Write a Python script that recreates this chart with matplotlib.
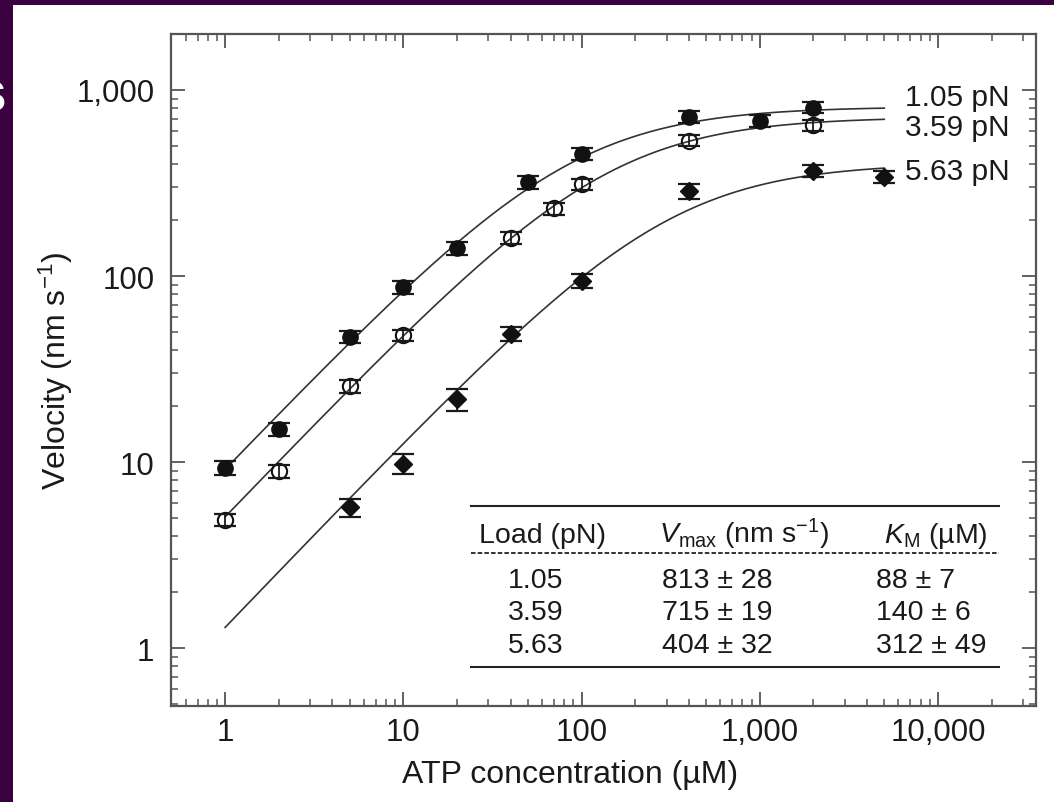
import matplotlib
matplotlib.use('Agg')
import matplotlib.pyplot as plt
import numpy as np
from matplotlib.ticker import LogLocator, FuncFormatter, NullFormatter
from matplotlib.patches import Rectangle
from matplotlib.lines import Line2D

plt.rcParams['font.family'] = ['Liberation Sans', 'DejaVu Sans']
plt.rcParams['mathtext.fontset'] = 'custom'
plt.rcParams['mathtext.rm'] = 'Liberation Sans'
plt.rcParams['mathtext.it'] = 'Liberation Sans:italic'

# data
atp_105 = [1, 2, 5, 10, 20, 50, 100, 400, 1000, 2000]
vel_105 = [9.3, 15, 47, 87, 141, 320, 453, 716, 681, 805]
err_105 = [0.8, 1.2, 3.5, 7, 11, 25, 35, 55, 50, 55]

atp_359 = [1, 2, 5, 10, 40, 70, 100, 400, 2000]
vel_359 = [4.9, 8.9, 25.6, 48, 160, 231, 311, 535, 645]
err_359 = [0.35, 0.7, 2, 3.5, 12, 17, 22, 38, 45]

atp_563 = [5, 10, 20, 40, 100, 400, 2000, 5000]
vel_563 = [5.7, 9.8, 21.8, 49, 94, 286, 367, 341]
err_563 = [0.65, 1.2, 3.0, 4.5, 8, 25, 28, 25]

loads = ['1.05', '3.59', '5.63']
vmax = [813, 715, 404]
vmax_err = [28, 19, 32]
km = [88, 140, 312]
km_err = [7, 6, 49]

W, H = 1054, 803


def fx(x):
    return x / W


def fy(y):
    return 1 - y / H


fig = plt.figure(figsize=(W / 100, H / 100), dpi=100, facecolor='#3b0040')
fig.patches.append(Rectangle((fx(13), 0), 1, fy(6), transform=fig.transFigure,
                             facecolor='white', edgecolor='none', zorder=-5))
fig.text(fx(7), fy(112), 's', ha='right', va='baseline', color='white',
         fontsize=41, fontweight='bold')

ax = fig.add_axes([fx(171), fy(707), fx(1036) - fx(171), fy(35) - fy(707)])
ax.set_zorder(2)
ax.patch.set_alpha(0)
ax.set_xscale('log')
ax.set_yscale('log')

# Michaelis-Menten fits from the table values
x_fit = np.logspace(0, np.log10(5000), 400)
for vm, k in zip(vmax, km):
    ax.plot(x_fit, vm * x_fit / (k + x_fit), color='#333333', lw=1.2, zorder=2)

ebar = dict(fmt='none', ecolor='#1a1a1a', elinewidth=1.3, capsize=8, capthick=1.6)
ax.errorbar(atp_105, vel_105, yerr=err_105, zorder=3, **ebar)
ax.plot(atp_105, vel_105, 'o', ms=11, color='#111111', zorder=4)

ax.plot(atp_359, vel_359, 'o', ms=11, mfc='none', mec='#111111', mew=1.5, zorder=3)
ax.errorbar(atp_359, vel_359, yerr=err_359, zorder=4, **ebar)

ax.errorbar(atp_563, vel_563, yerr=err_563, zorder=3, **ebar)
ax.plot(atp_563, vel_563, 'D', ms=9, color='#111111', zorder=4)

ax.set_xlim(0.497, 35500)
ax.set_ylim(0.488, 2000)

fmt = FuncFormatter(lambda v, p: f'{v:,.0f}')
for axis in (ax.xaxis, ax.yaxis):
    axis.set_major_locator(LogLocator(base=10, numticks=12))
    axis.set_minor_locator(LogLocator(base=10, subs=np.arange(2, 10), numticks=40))
    axis.set_major_formatter(fmt)
    axis.set_minor_formatter(NullFormatter())

ax.tick_params(which='both', direction='in', top=True, right=True,
               color='#555555', labelcolor='#1a1a1a', labelsize=22.5)
ax.tick_params(which='major', length=10, width=1.3)
ax.tick_params(which='minor', length=5, width=1.1)
ax.tick_params(axis='y', pad=12)
ax.tick_params(axis='x', pad=8)
for s in ax.spines.values():
    s.set_color('#555555')
    s.set_linewidth(1.6)

ax.set_xlabel('ATP concentration (µM)', fontsize=23, color='#1a1a1a')
ax.xaxis.set_label_coords((570 - 171) / 865, (707 - 760) / 672)
ax.set_ylabel('Velocity (nm s$^{-1}$)', fontsize=23, color='#1a1a1a')
ax.yaxis.set_label_coords((75 - 171) / 865, 0.5)

# curve labels
for lab, yb in zip(loads, [106, 136, 180]):
    fig.text(fx(905), fy(yb), lab + ' pN', fontsize=21.5, color='#1a1a1a', va='baseline')

# inset table
tcol = '#222222'
fig.add_artist(Line2D([fx(471), fx(999)], [fy(507)] * 2, transform=fig.transFigure, color=tcol, lw=1.5))
fig.add_artist(Line2D([fx(471), fx(999)], [fy(554)] * 2, transform=fig.transFigure, color=tcol, lw=1.3,
                      linestyle=(0, (2.5, 1.2))))
fig.add_artist(Line2D([fx(471), fx(999)], [fy(668)] * 2, transform=fig.transFigure, color=tcol, lw=1.5))

ts = 20.5
fig.text(fx(479), fy(543), 'Load (pN)', fontsize=ts, color='#1a1a1a', va='baseline')
fig.text(fx(659), fy(543), r'$V_{\rm max}$ (nm s$^{-1}$)', fontsize=ts, color='#1a1a1a', va='baseline')
fig.text(fx(884), fy(543), r'$K_{\rm M}$ (µM)', fontsize=ts, color='#1a1a1a', va='baseline')
for i, yb in enumerate([588, 620, 653]):
    fig.text(fx(508), fy(yb), loads[i], fontsize=ts, color='#1a1a1a', va='baseline')
    fig.text(fx(662), fy(yb), f'{vmax[i]} ± {vmax_err[i]}', fontsize=ts, color='#1a1a1a', va='baseline')
    fig.text(fx(876), fy(yb), f'{km[i]} ± {km_err[i]}', fontsize=ts, color='#1a1a1a', va='baseline')

fig.savefig('out.png', dpi=100, facecolor=fig.get_facecolor())
